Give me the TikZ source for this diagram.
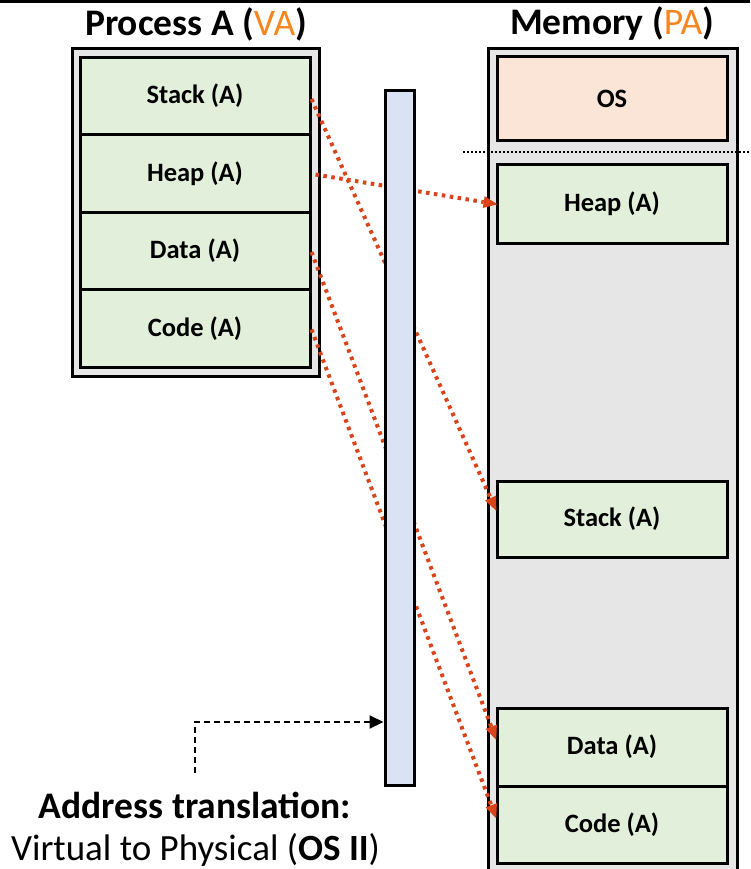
\documentclass[tikz,border=0pt]{standalone}
\usepackage{fontspec}
\setmainfont{Carlito}
\usetikzlibrary{arrows.meta,calc}
\definecolor{segfill}{HTML}{E2EFDA}
\definecolor{osfill}{HTML}{FBE5D6}
\definecolor{boxgray}{HTML}{E6E6E6}
\definecolor{mmufill}{HTML}{DAE3F3}
\definecolor{addrorange}{HTML}{F7861E}
\definecolor{maparrow}{HTML}{D9441A}

\begin{document}
\begin{tikzpicture}[x=1pt,y=-1pt,
  segbox/.style={draw=black,line width=3pt,fill=segfill,minimum width=230pt,
    inner sep=0pt,font=\fontsize{26.5}{30}\selectfont\bfseries},
  outerbox/.style={draw=black,line width=3pt,fill=boxgray},
  titletext/.style={inner sep=0pt,font=\fontsize{37.5}{42}\selectfont\bfseries},
  captext/.style={inner sep=0pt,anchor=base,font=\fontsize{37}{42}\selectfont},
  maplink/.style={draw=maparrow,line width=4pt,dash pattern=on 3.5pt off 4.5pt,
    -{Triangle[length=14pt,width=12pt,line width=0pt,fill=maparrow]}, shorten >=-2pt},
  hintlink/.style={draw=black,line width=2pt,dash pattern=on 6pt off 4pt,
    -{Triangle[length=14pt,width=13pt]}}
]
\clip (0,0) rectangle (750,869);
\useasboundingbox (0,0) rectangle (750,869);

% rule along the top edge
\draw[line width=3.5pt] (0,1.5) -- (750,1.5);

% titles
\node[titletext] (vatitle) at (196,24) {Process A (\textcolor{addrorange}{\mdseries VA})};
\node[titletext] (patitle) at (612,24) {Memory (\textcolor{addrorange}{\mdseries PA})};

% virtual address space of process A
\node[outerbox,minimum width=247pt,minimum height=327pt] (vabox) at (195.5,212.5) {};
\node[segbox,minimum height=77.5pt] (vstack) at (195,96) {Stack (A)};
\node[segbox,minimum height=77.5pt] (vheap) at (195,173.5) {Heap (A)};
\node[segbox,minimum height=77.5pt] (vdata) at (195,251) {Data (A)};
\node[segbox,minimum height=77.5pt] (vcode) at (195,328.5) {Code (A)};

% physical memory
\draw[outerbox] (488,900) -- (488,49) -- (737,49) -- (737,900);
\node[segbox,fill=osfill,minimum height=84pt] (mos) at (612,99) {OS};
\draw[line width=2pt,dash pattern=on 2pt off 2pt] (463,152) -- (750,152);
\node[segbox,minimum height=78pt] (mheap) at (612,204) {Heap (A)};
\node[segbox,minimum height=76pt] (mstack) at (612,519) {Stack (A)};
\node[segbox,minimum height=78pt] (mdata) at (612,747) {Data (A)};
\node[segbox,minimum height=77pt] (mcode) at (612,824.5) {Code (A)};

% virtual-to-physical mappings
\draw[maplink] ([yshift=-3pt]vstack.east) -- ([yshift=10pt]mstack.west);
\draw[maplink] ([xshift=4pt,yshift=-1pt]vheap.east) -- (mheap.west);
\draw[maplink] ([yshift=-1pt]vdata.east) -- ([yshift=9pt]mdata.west);
\draw[maplink] ([yshift=-1pt]vcode.east) -- ([yshift=8pt]mcode.west);

% translation unit
\node[draw=black,line width=3pt,fill=mmufill,minimum width=29pt,minimum height=694pt,
  inner sep=0pt] (mmu) at (399.5,438) {};

% caption and pointer
\coordinate (hintstart) at (195,773);
\draw[hintlink] (hintstart) |- ([yshift=-284pt]mmu.west);
\node[captext,font=\fontsize{37.5}{42}\selectfont\bfseries] (cap1) at (195,818) {Address translation:};
\node[captext] (cap2) at (195.5,860) {Virtual to Physical (\textbf{OS II})};
\end{tikzpicture}
\end{document}
